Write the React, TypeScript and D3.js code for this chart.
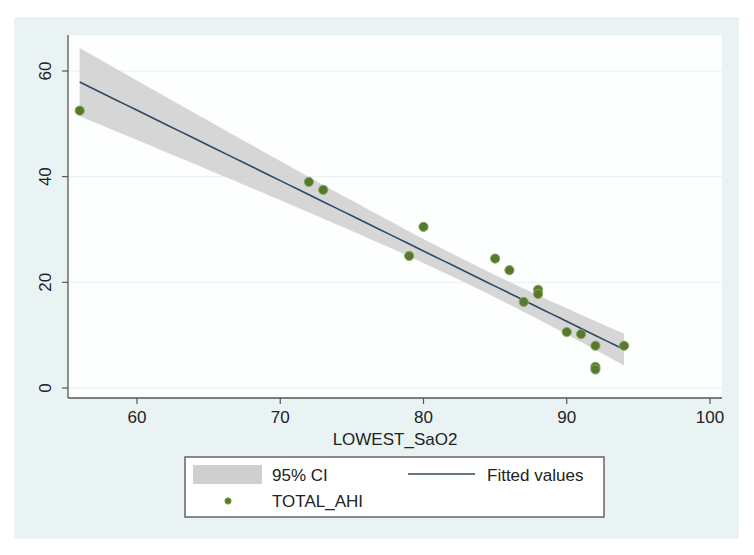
import React from "react";
import * as d3 from "d3";

// Data
const lowestSaO2 = [56, 72, 73, 79, 80, 85, 86, 87, 88, 88, 90, 91, 92, 92, 92, 94];
const totalAHI = [52.5, 39, 37.5, 25, 30.5, 24.5, 22.3, 16.3, 18.6, 17.8, 10.6, 10.2, 8, 4, 3.5, 8];
const xTicks = [60, 70, 80, 90, 100];
const yTicks = [0, 20, 40, 60];
const xTitle = "LOWEST_SaO2";
const legendLabels = ["95% CI", "Fitted values", "TOTAL_AHI"];
const tCrit = 2.145; // t(0.975, df = n - 2 = 14)

const W = 754;
const H = 555;
const FONT = "'Liberation Sans', Arial, sans-serif";

// Linear fit + 95% CI of the mean
function fit(xs: number[], ys: number[]) {
  const n = xs.length;
  const mx = d3.mean(xs)!;
  const my = d3.mean(ys)!;
  const sxx = d3.sum(xs, (x) => (x - mx) ** 2);
  const sxy = d3.sum(xs.map((x, i) => (x - mx) * (ys[i] - my)));
  const b = sxy / sxx;
  const a = my - b * mx;
  const ssr = d3.sum(xs.map((x, i) => (ys[i] - (a + b * x)) ** 2));
  const s = Math.sqrt(ssr / (n - 2));
  return (x: number) => {
    const yhat = a + b * x;
    const hw = tCrit * s * Math.sqrt(1 / n + (x - mx) ** 2 / sxx);
    return { x, yhat, lo: yhat - hw, hi: yhat + hw };
  };
}

export default function App() {
  const plot = { left: 68, right: 722, top: 35, bottom: 398 };
  const x = d3.scaleLinear().domain([60, 100]).range([137, 710]);
  const y = d3.scaleLinear().domain([0, 60]).range([388, 71]);

  const f = fit(lowestSaO2, totalAHI);
  const [xmin, xmax] = d3.extent(lowestSaO2) as [number, number];
  const samples = d3.range(0, 61).map((i) => f(xmin + ((xmax - xmin) * i) / 60));

  const area = d3
    .area<any>()
    .x((d) => x(d.x))
    .y0((d) => y(d.lo))
    .y1((d) => y(d.hi));
  const line = d3
    .line<any>()
    .x((d) => x(d.x))
    .y((d) => y(d.yhat));

  const bandColor = "#cfcfcf";
  const lineColor = "#2c4a66";
  const dotColor = "#567a2c";

  return (
    <svg width={W} height={H} style={{ position: "absolute", left: 0, top: 0, background: "#fff" }}>
      {/* outer graph region */}
      <rect x={15} y={18} width={723} height={520} fill="#eaf3f3" stroke="#e2eded" strokeWidth={1} />
      {/* plot region */}
      <rect x={plot.left} y={plot.top} width={plot.right - plot.left} height={plot.bottom - plot.top} fill="#fdfefe" />

      {/* gridlines */}
      {yTicks.map((t) => (
        <line key={"g" + t} x1={plot.left} x2={plot.right} y1={y(t)} y2={y(t)} stroke="#e9efef" strokeWidth={1} />
      ))}

      {/* CI band */}
      <path d={area(samples)!} fill={bandColor} fillOpacity={0.85} />
      {/* fitted line */}
      <path d={line(samples)!} fill="none" stroke={lineColor} strokeWidth={1.6} />

      {/* points */}
      {lowestSaO2.map((v, i) => (
        <circle key={i} cx={x(v)} cy={y(totalAHI[i])} r={4.6} fill={dotColor} stroke="#8aa85e" strokeWidth={1} />
      ))}

      {/* axes */}
      <line x1={plot.left} x2={plot.left} y1={plot.top} y2={plot.bottom} stroke="#555" strokeWidth={1.3} />
      <line x1={plot.left} x2={plot.right} y1={plot.bottom} y2={plot.bottom} stroke="#555" strokeWidth={1.3} />

      {yTicks.map((t) => (
        <g key={"y" + t}>
          <line x1={plot.left - 6} x2={plot.left} y1={y(t)} y2={y(t)} stroke="#555" strokeWidth={1.2} />
          <text
            transform={`translate(${51},${y(t)}) rotate(-90)`}
            textAnchor="middle"
            fontFamily={FONT}
            fontSize={17}
            fill="#222"
          >
            {t}
          </text>
        </g>
      ))}

      {xTicks.map((t) => (
        <g key={"x" + t}>
          <line x1={x(t)} x2={x(t)} y1={plot.bottom} y2={plot.bottom + 6} stroke="#555" strokeWidth={1.2} />
          <text x={x(t)} y={423} textAnchor="middle" fontFamily={FONT} fontSize={17} fill="#222">
            {t}
          </text>
        </g>
      ))}

      <text x={(plot.left + plot.right) / 2} y={445} textAnchor="middle" fontFamily={FONT} fontSize={17} fill="#222">
        {xTitle}
      </text>

      {/* legend */}
      <rect x={185} y={457} width={419} height={60} fill="#fff" stroke="#666" strokeWidth={1.5} />
      <rect x={193} y={465} width={69} height={19} fill={bandColor} />
      <text x={272} y={481} fontFamily={FONT} fontSize={17} fill="#222">
        {legendLabels[0]}
      </text>
      <line x1={408} x2={475} y1={474} y2={474} stroke={lineColor} strokeWidth={1.6} />
      <text x={487} y={481} fontFamily={FONT} fontSize={17} fill="#222">
        {legendLabels[1]}
      </text>
      <circle cx={228} cy={501} r={3.2} fill={dotColor} stroke="#8aa85e" strokeWidth={0.8} />
      <text x={272} y={507} fontFamily={FONT} fontSize={17} fill="#222">
        {legendLabels[2]}
      </text>
    </svg>
  );
}
